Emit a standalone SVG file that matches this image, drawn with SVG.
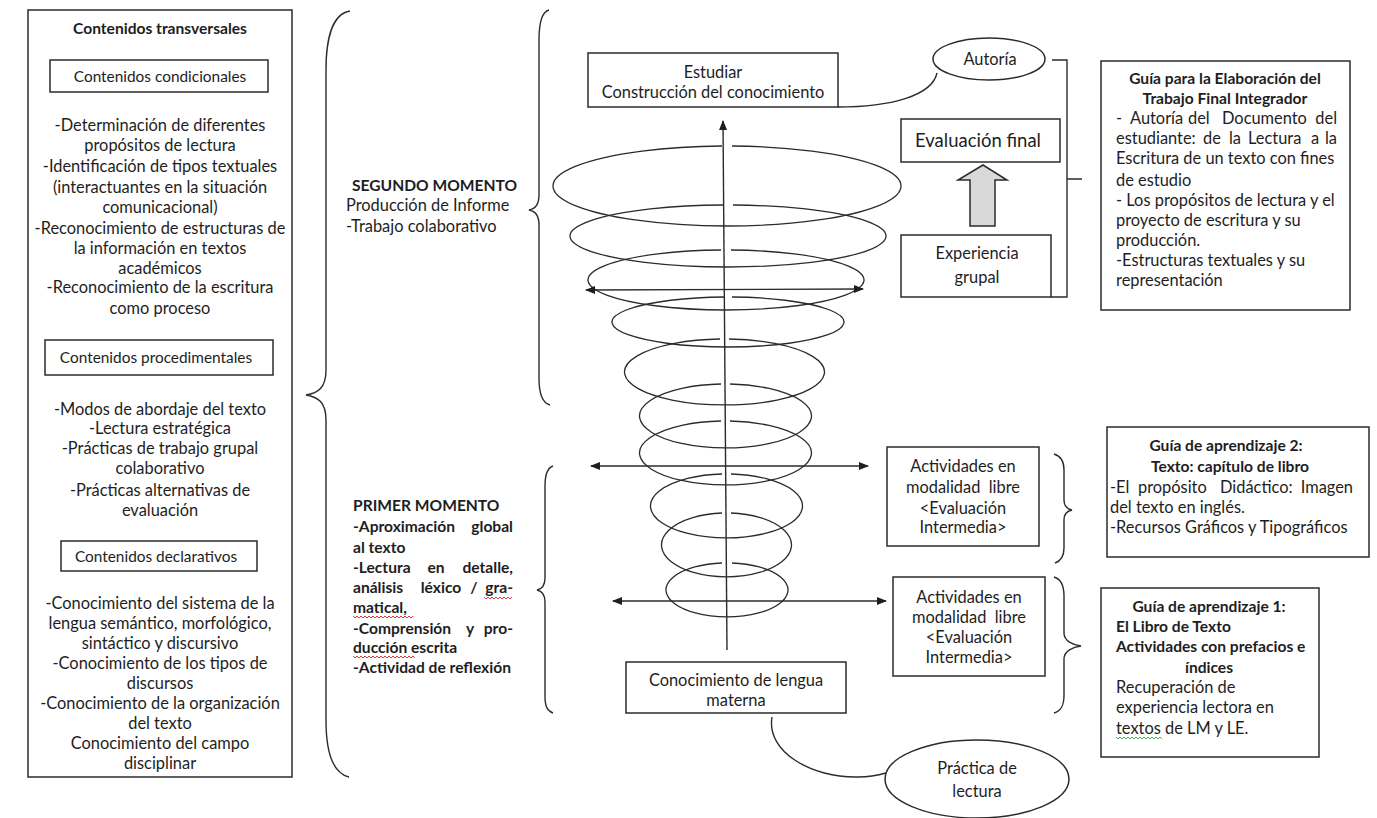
<svg xmlns="http://www.w3.org/2000/svg" width="1377" height="818" viewBox="0 0 1377 818">
<style>
.t{font-family:Lato,"Liberation Sans",sans-serif;font-size:16.4px;fill:#1e1e1e}
.b{font-weight:bold;font-size:15.6px}
.s{font-size:15.4px}
.c{text-anchor:middle}
.e{text-anchor:end}
.box{fill:#fff;stroke:#2b2b2b;stroke-width:1.5}
.ln{fill:none;stroke:#2b2b2b;stroke-width:1.4}
.sp{fill:none;stroke:#2b2b2b;stroke-width:1.3}
.red{fill:none;stroke:#d22;stroke-width:0.9}
.grn{fill:none;stroke:#3a3;stroke-width:0.9}
</style>
<defs>
<marker id="ah" viewBox="0 0 10 10" refX="9" refY="5" markerWidth="10" markerHeight="10" markerUnits="userSpaceOnUse" orient="auto-start-reverse">
<path d="M0,1 L10,5 L0,9 Z" fill="#1e1e1e"/>
</marker>
</defs>
<rect width="1377" height="818" fill="#fff"/>

<g id="contenidos-transversales">
<rect class="box" x="28" y="10" width="264" height="767"/>
<text class="t b c" x="160" y="34">Contenidos transversales</text>
<rect class="box" x="50" y="60" width="218" height="32"/>
<text class="t s c" x="160" y="82">Contenidos condicionales</text>
<text class="t c" x="160" y="131">-Determinación de diferentes</text>
<text class="t c" x="160" y="151">propósitos de lectura</text>
<text class="t c" x="160" y="172">-Identificación de tipos textuales</text>
<text class="t c" x="160" y="193">(interactuantes en la situación</text>
<text class="t c" x="160" y="213">comunicacional)</text>
<text class="t c" x="160" y="234">-Reconocimiento de estructuras de</text>
<text class="t c" x="160" y="254">la información en textos</text>
<text class="t c" x="160" y="274">académicos</text>
<text class="t c" x="160" y="293">-Reconocimiento de la escritura</text>
<text class="t c" x="160" y="314">como proceso</text>
<rect class="box" x="45" y="340" width="228" height="35"/>
<text class="t s c" x="156" y="363">Contenidos procedimentales</text>
<text class="t c" x="160" y="415">-Modos de abordaje del texto</text>
<text class="t c" x="160" y="434">-Lectura estratégica</text>
<text class="t c" x="160" y="454">-Prácticas de trabajo grupal</text>
<text class="t c" x="160" y="474">colaborativo</text>
<text class="t c" x="160" y="496">-Prácticas alternativas de</text>
<text class="t c" x="160" y="516">evaluación</text>
<rect class="box" x="61" y="541" width="196" height="30"/>
<text class="t s c" x="156" y="562">Contenidos declarativos</text>
<text class="t c" x="160" y="609">-Conocimiento del sistema de la</text>
<text class="t c" x="160" y="629">lengua semántico, morfológico,</text>
<text class="t c" x="160" y="649">sintáctico y discursivo</text>
<text class="t c" x="160" y="669">-Conocimiento de los tipos de</text>
<text class="t c" x="160" y="689">discursos</text>
<text class="t c" x="160" y="709">-Conocimiento de la organización</text>
<text class="t c" x="160" y="729">del texto</text>
<text class="t c" x="160" y="749">Conocimiento del campo</text>
<text class="t c" x="160" y="769">disciplinar</text>
</g>

<g id="segundo-momento">
<text class="t b" x="352" y="191">SEGUNDO MOMENTO</text>
<text class="t" x="346" y="211">Producción de Informe</text>
<text class="t" x="346" y="232">-Trabajo colaborativo</text>
</g>

<g id="primer-momento">
<text class="t b" x="353" y="511">PRIMER MOMENTO</text>
<text class="t b" x="353" y="532">-Aproximación</text><text class="t b e" x="513" y="532">global</text>
<text class="t b" x="353" y="553">al texto</text>
<text class="t b" x="353" y="573">-Lectura</text><text class="t b c" x="436" y="573">en</text><text class="t b e" x="513" y="573">detalle,</text>
<text class="t b" x="353" y="593">análisis</text><text class="t b c" x="441" y="593">léxico</text><text class="t b c" x="474" y="593">/</text><text class="t b e" x="513" y="593">gra-</text>
<text class="t b" x="353" y="613">matical,</text>
<text class="t b" x="353" y="634">-Comprensión</text><text class="t b c" x="470" y="634">y</text><text class="t b e" x="513" y="634">pro-</text>
<text class="t b" x="353" y="653">ducción escrita</text>
<text class="t b" x="353" y="673">-Actividad de reflexión</text>
<polyline class="red" points="484,597 486,599 488,597 490,599 492,597 494,599 496,597 498,599 500,597 502,599 504,597 506,599 508,597 510,599 512,597"/>
<polyline class="red" points="353,616 355,618 357,616 359,618 361,616 363,618 365,616 367,618 369,616 371,618 373,616 375,618 377,616 379,618 381,616 383,618 385,616 387,618 389,616 391,618 393,616 395,618 397,616 399,618 401,616 403,618 405,616 407,618 409,616 411,618 413,616"/>
<polyline class="red" points="353,656 355,658 357,656 359,658 361,656 363,658 365,656 367,658 369,656 371,658 373,656 375,658 377,656 379,658 381,656 383,658 385,656 387,658 389,656 391,658 393,656 395,658 397,656 399,658 401,656 403,658 405,656 407,658 409,656 411,658 413,656 415,658"/>
</g>

<g id="espiral">
<path class="sp" d="M732,146 A174,40 0 1 1 722,146"/>
<path class="sp" d="M733,205 A158,31 0 1 1 723,205"/>
<path class="sp" d="M731,250 A138,30 0 1 1 721,250"/>
<path class="sp" d="M732,297 A116,25 0 1 1 724,297"/>
<path class="sp" d="M729,339 A100,33 0 1 1 720,339"/>
<path class="sp" d="M730,384 A86,32 0 1 1 721,384"/>
<path class="sp" d="M730,421 A86,32 0 1 1 721,421"/>
<path class="sp" d="M731,474 A76,32 0 1 1 722,474"/>
<path class="sp" d="M731,513 A65,32 0 1 1 722,513"/>
<path class="sp" d="M732,563 A61,27 0 1 1 722,563"/>
</g>

<g id="estudiar">
<rect class="box" x="588" y="53" width="250" height="54"/>
<text class="t c" x="713" y="78">Estudiar</text>
<text class="t c" x="713" y="98">Construcción del conocimiento</text>
</g>

<g id="autoria">
<ellipse class="box" cx="989" cy="59" rx="56" ry="21"/>
<text class="t c" x="990" y="65">Autoría</text>
</g>

<g id="evaluacion-final">
<rect class="box" x="901" y="119" width="159" height="43"/>
<text class="t c" x="978" y="147" style="font-size:18.5px">Evaluación final</text>
</g>

<g id="flecha-bloque">
<path d="M983,165 L1007,180 L995,180 L995,226 L970,226 L970,180 L958,180 Z" fill="#d9d9d9" stroke="#2b2b2b" stroke-width="1.5"/>
</g>

<g id="experiencia-grupal">
<rect class="box" x="901" y="235" width="150" height="62"/>
<text class="t c" x="977" y="259">Experiencia</text>
<text class="t c" x="977" y="283">grupal</text>
</g>

<g id="guia-final">
<rect class="box" x="1101" y="61" width="249" height="249"/>
<text class="t b c" x="1225" y="84">Guía para la Elaboración del</text>
<text class="t b c" x="1225" y="104">Trabajo Final Integrador</text>
<text class="t" x="1116" y="124">-</text><text class="t" x="1130" y="124">Autoría</text><text class="t" x="1188" y="124">del</text><text class="t" x="1222" y="124">Documento</text><text class="t e" x="1337" y="124">del</text>
<text class="t" x="1116" y="144">estudiante:</text><text class="t" x="1203" y="144">de</text><text class="t" x="1229" y="144">la</text><text class="t" x="1248" y="144">Lectura</text><text class="t" x="1311" y="144">a</text><text class="t e" x="1337" y="144">la</text>
<text class="t" x="1116" y="164">Escritura de un texto con fines</text>
<text class="t" x="1116" y="186">de estudio</text>
<text class="t" x="1116" y="206">- Los propósitos de lectura y el</text>
<text class="t" x="1116" y="226">proyecto de escritura y su</text>
<text class="t" x="1116" y="246">producción.</text>
<text class="t" x="1116" y="266">-Estructuras textuales y su</text>
<text class="t" x="1116" y="286">representación</text>
</g>

<g id="actividades-1">
<rect class="box" x="887" y="447" width="152" height="99"/>
<text class="t c" x="963" y="472">Actividades en</text>
<text class="t c" x="963" y="493" xml:space="preserve">modalidad  libre</text>
<text class="t c" x="963" y="514">&lt;Evaluación</text>
<text class="t c" x="963" y="533">Intermedia&gt;</text>
</g>

<g id="guia-2">
<rect class="box" x="1107" y="427" width="262" height="130"/>
<text class="t b c" x="1226" y="451">Guía de aprendizaje 2:</text>
<text class="t b c" x="1230" y="472">Texto: capítulo de libro</text>
<text class="t" x="1110" y="493">-El</text><text class="t" x="1138" y="493">propósito</text><text class="t" x="1220" y="493">Didáctico:</text><text class="t e" x="1353" y="493">Imagen</text>
<text class="t" x="1110" y="513">del texto en inglés.</text>
<text class="t" x="1110" y="533">-Recursos Gráficos y Tipográficos</text>
</g>

<g id="actividades-2">
<rect class="box" x="893" y="577" width="152" height="99"/>
<text class="t c" x="969" y="603">Actividades en</text>
<text class="t c" x="969" y="623" xml:space="preserve">modalidad  libre</text>
<text class="t c" x="969" y="643">&lt;Evaluación</text>
<text class="t c" x="969" y="663">Intermedia&gt;</text>
</g>

<g id="guia-1">
<rect class="box" x="1101" y="588" width="218" height="169"/>
<text class="t b c" x="1209" y="612">Guía de aprendizaje 1:</text>
<text class="t b" x="1116" y="632">El Libro de Texto</text>
<text class="t b" x="1116" y="652">Actividades con prefacios e</text>
<text class="t b c" x="1209" y="673">índices</text>
<text class="t" x="1116" y="693">Recuperación de</text>
<text class="t" x="1116" y="713">experiencia lectora en</text>
<text class="t" x="1116" y="734">textos de LM y LE.</text>
<polyline class="grn" points="1116,737 1118,739 1120,737 1122,739 1124,737 1126,739 1128,737 1130,739 1132,737 1134,739 1136,737 1138,739 1140,737 1142,739 1144,737 1146,739 1148,737 1150,739 1152,737 1154,739 1156,737 1158,739 1160,737 1162,739"/>
</g>

<g id="conocimiento-lengua">
<rect class="box" x="626" y="662" width="220" height="51"/>
<text class="t c" x="736" y="686">Conocimiento de lengua</text>
<text class="t c" x="736" y="706">materna</text>
</g>

<g id="practica-lectura">
<ellipse class="box" cx="977" cy="779" rx="92" ry="39"/>
<text class="t c" x="977" y="774">Práctica de</text>
<text class="t c" x="977" y="797">lectura</text>
</g>

<g id="conectores">
<path class="ln" d="M350,11 C332,14 326,40 326,70 L326,370 C326,388 318,393 306,395 C318,397 326,402 326,420 L326,720 C326,752 332,773 349,777"/>
<path class="ln" d="M549,10 C541,12 539,25 539,40 L539,195 C539,205 535,209 529,210 C535,211 539,215 539,225 L539,378 C539,394 542,403 550,405"/>
<path class="ln" d="M553,466 C547,468 545,475 545,486 L545,578 C545,585 542,589 537,590 C542,591 545,595 545,602 L545,696 C545,706 547,711 553,713"/>
<path class="ln" d="M1054,454 C1061,456 1064,461 1064,470 L1064,500 C1064,506 1067,509 1072,510 C1067,511 1064,514 1064,520 L1064,548 C1064,557 1061,561 1055,563"/>
<path class="ln" d="M1054,577 C1061,579 1064,585 1064,596 L1064,633 C1064,641 1073,645 1081,646 C1073,647 1064,651 1064,659 L1064,695 C1064,706 1061,711 1054,713"/>
<path class="ln" d="M1052,60 L1067,60 L1067,297 L1051,297 M1067,179 L1082,179"/>
<path class="ln" d="M838,107 C890,107 932,96 937,73"/>
<path class="ln" d="M772,717 C766,752 812,778 858,777 C870,777 879,775 886,773"/>
<line class="ln" x1="727" y1="650" x2="723" y2="121" marker-end="url(#ah)"/>
<line class="ln" x1="586" y1="290" x2="863" y2="289" marker-start="url(#ah)" marker-end="url(#ah)"/>
<line class="ln" x1="591" y1="466" x2="868" y2="466" marker-start="url(#ah)" marker-end="url(#ah)"/>
<line class="ln" x1="613" y1="601" x2="886" y2="601" marker-start="url(#ah)" marker-end="url(#ah)"/>
</g>
</svg>
